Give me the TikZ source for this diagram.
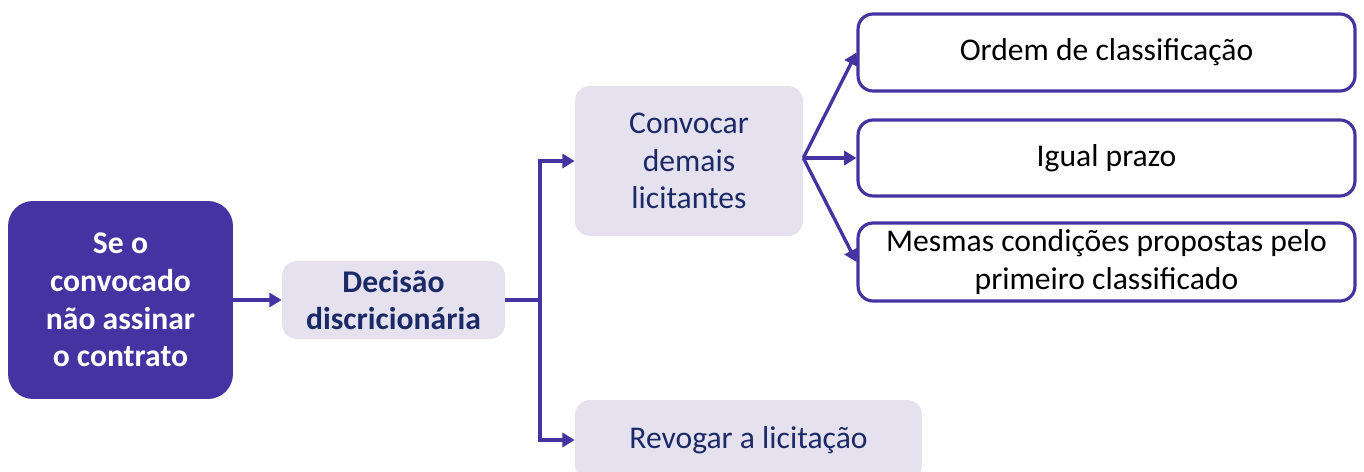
\documentclass[tikz,border=0pt]{standalone}
\usepackage{fontspec}
\setmainfont{Carlito}
\usetikzlibrary{arrows.meta}
\definecolor{purp}{HTML}{4433A0}
\definecolor{lav}{HTML}{E6E1EE}
\definecolor{navy}{HTML}{1A2A66}
\tikzset{
  every node/.style={font=\fontsize{18}{21.5}\selectfont, align=center, inner sep=0pt},
  mainbox/.style={fill=purp, rounded corners=0.5cm, text=white, font=\fontsize{18}{21.5}\selectfont\bfseries},
  lavbox/.style={fill=lav, rounded corners=0.3cm, text=navy},
  outbox/.style={draw=purp, line width=1.8pt, fill=white, rounded corners=0.3cm, text=black},
  conn/.style={draw=purp, line width=1.9pt},
  arr/.style={conn, -{Triangle[length=7pt,width=8pt]}}
}
\begin{document}
\begin{tikzpicture}[x=0.02cm,y=-0.02cm]
\useasboundingbox (0,0) rectangle (1364,472);
\clip (0,0) rectangle (1364,472);
\node[mainbox, minimum width=4.5cm, minimum height=3.96cm] (se) at (120.5,300) {Se o\\convocado\\não assinar\\o contrato};
\node[lavbox, minimum width=4.46cm, minimum height=1.56cm, font=\fontsize{18}{21.5}\selectfont\bfseries] (dec) at (393.5,300) {Decisão\\discricionária};
\node[lavbox, minimum width=4.56cm, minimum height=3.0cm] (conv) at (689,161) {Convocar\\demais\\licitantes};
\node[lavbox, minimum width=6.94cm, minimum height=1.6cm] (rev) at (748.5,440) {Revogar a licitação};
\node[outbox, minimum width=9.94cm, minimum height=1.54cm] (b1) at (1106.5,52.5) {Ordem de classificação};
\node[outbox, minimum width=9.94cm, minimum height=1.52cm] (b2) at (1106.5,158) {Igual prazo};
\node[outbox, minimum width=9.94cm, minimum height=1.56cm] (b3) at (1106.5,262) {Mesmas condições propostas pelo\\primeiro classificado};
\coordinate (j) at (540,300);
\coordinate (f) at (conv.east |- b2.west);
\draw[arr] (se.east) -- (dec.west);
\draw[conn] (dec.east) -- (j);
\draw[arr] (j) |- (conv.west);
\draw[arr] (j) |- (rev.west);
\draw[arr] (f) -- (b1.west);
\draw[arr] (f) -- (b2.west);
\draw[arr] (f) -- (b3.west);
\end{tikzpicture}
\end{document}
